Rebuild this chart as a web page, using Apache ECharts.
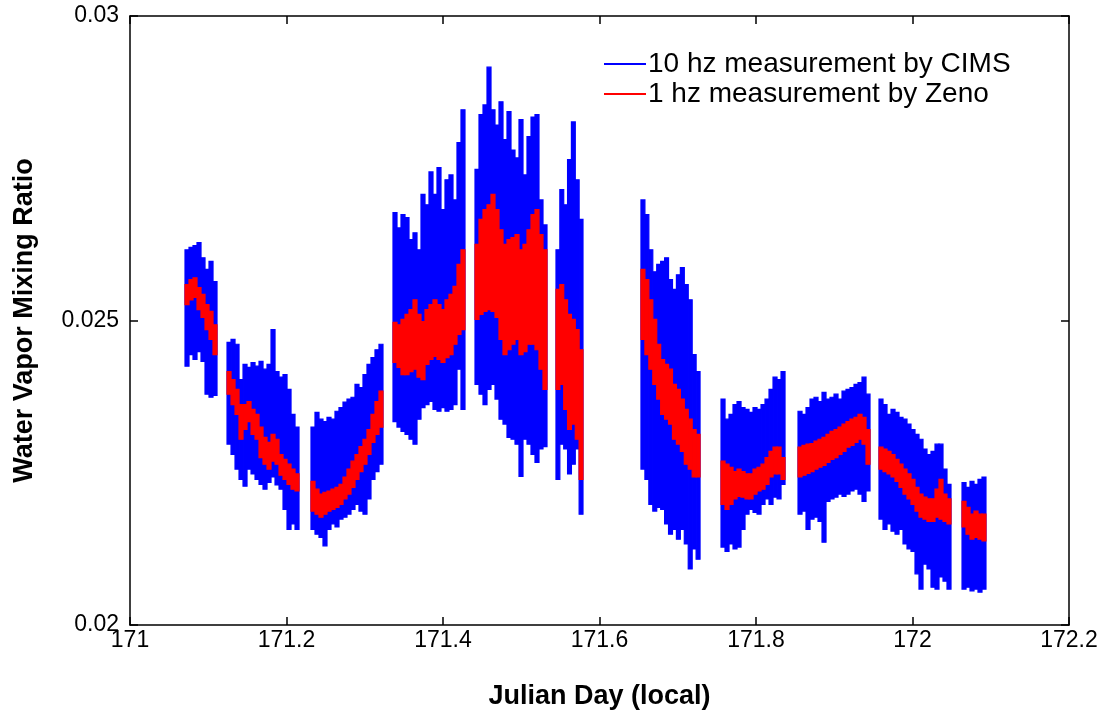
<!DOCTYPE html>
<html lang="en">
<head>
    <meta charset="UTF-8">
    <title>Water Vapor Mixing Ratio</title>
    <script src="https://cdn.jsdelivr.net/npm/echarts@6/dist/echarts.min.js"></script>
</head>
<body style="margin:0;background:#fff;">
<div id="main" style="width:1107px;height:715px;"></div>

<script type="text/javascript">
    // x ticks / y ticks
    var xTicks = [171, 171.2, 171.4, 171.6, 171.8, 172, 172.2];
    var yTicks = [0.02, 0.025, 0.03];

    // start / end (Julian day) of each recording block
    var segStart = [171.0703, 171.1240, 171.2313, 171.3361, 171.4409, 171.5444, 171.6530, 171.7553, 171.8537, 171.9572, 172.0633];
    var segEnd   = [171.1112, 171.2160, 171.3233, 171.4281, 171.5329, 171.5789, 171.7285, 171.8371, 171.9457, 172.0492, 172.0939];

    // 10 hz CIMS: upper / lower edge of the trace, read along each block
    var cimsHi = [
        [0.02616, 0.02620, 0.02623, 0.02628, 0.02603, 0.02584, 0.02597, 0.02564],
        [0.02464, 0.02469, 0.02461, 0.02403, 0.02428, 0.02423, 0.02431, 0.02425, 0.02433, 0.02420, 0.02428, 0.02485, 0.02416, 0.02407, 0.02411, 0.02387, 0.02346, 0.02325],
        [0.02325, 0.02349, 0.02338, 0.02334, 0.02341, 0.02338, 0.02351, 0.02357, 0.02366, 0.02371, 0.02374, 0.02395, 0.02390, 0.02411, 0.02428, 0.02439, 0.02452, 0.02461],
        [0.02677, 0.02652, 0.02674, 0.02669, 0.02633, 0.02644, 0.02616, 0.02707, 0.02690, 0.02744, 0.02707, 0.02751, 0.02682, 0.02731, 0.02739, 0.02698, 0.02792, 0.02846],
        [0.02748, 0.02838, 0.02854, 0.02916, 0.02846, 0.02821, 0.02859, 0.02797, 0.02843, 0.02780, 0.02767, 0.02830, 0.02739, 0.02802, 0.02834, 0.02838, 0.02698, 0.02657],
        [0.02616, 0.02715, 0.02690, 0.02764, 0.02826, 0.02731, 0.02666],
        [0.02698, 0.02674, 0.02616, 0.02580, 0.02592, 0.02597, 0.02603, 0.02567, 0.02551, 0.02575, 0.02587, 0.02559, 0.02534, 0.02444, 0.02416],
        [0.02371, 0.02338, 0.02346, 0.02362, 0.02367, 0.02357, 0.02354, 0.02349, 0.02357, 0.02354, 0.02362, 0.02371, 0.02387, 0.02407, 0.02403, 0.02416],
        [0.02351, 0.02346, 0.02357, 0.02371, 0.02374, 0.02367, 0.02382, 0.02371, 0.02374, 0.02379, 0.02371, 0.02384, 0.02387, 0.02390, 0.02395, 0.02398, 0.02407, 0.02379],
        [0.02371, 0.02362, 0.02346, 0.02354, 0.02349, 0.02341, 0.02338, 0.02330, 0.02321, 0.02313, 0.02305, 0.02289, 0.02280, 0.02285, 0.02297, 0.02297, 0.02256, 0.02231],
        [0.02234, 0.02226, 0.02236, 0.02231, 0.02239, 0.02243]
    ];
    var cimsLo = [
        [0.02425, 0.02444, 0.02436, 0.02449, 0.02433, 0.02379, 0.02374, 0.02377],
        [0.02297, 0.02280, 0.02256, 0.02239, 0.02228, 0.02256, 0.02248, 0.02239, 0.02231, 0.02223, 0.02234, 0.02243, 0.02230, 0.02223, 0.02190, 0.02157, 0.02166, 0.02157],
        [0.02157, 0.02149, 0.02144, 0.02130, 0.02157, 0.02166, 0.02161, 0.02174, 0.02177, 0.02182, 0.02190, 0.02198, 0.02187, 0.02182, 0.02207, 0.02239, 0.02252, 0.02264],
        [0.02334, 0.02325, 0.02318, 0.02313, 0.02305, 0.02297, 0.02338, 0.02357, 0.02362, 0.02367, 0.02354, 0.02351, 0.02357, 0.02351, 0.02354, 0.02362, 0.02420, 0.02354],
        [0.02395, 0.02379, 0.02362, 0.02387, 0.02395, 0.02371, 0.02338, 0.02330, 0.02308, 0.02305, 0.02297, 0.02244, 0.02305, 0.02297, 0.02280, 0.02267, 0.02289, 0.02293],
        [0.02239, 0.02297, 0.02289, 0.02248, 0.02264, 0.02289, 0.02182],
        [0.02256, 0.02239, 0.02198, 0.02187, 0.02193, 0.02190, 0.02166, 0.02149, 0.02157, 0.02141, 0.02157, 0.02133, 0.02092, 0.02125, 0.02108],
        [0.02128, 0.02121, 0.02133, 0.02125, 0.02128, 0.02157, 0.02182, 0.02190, 0.02185, 0.02182, 0.02198, 0.02207, 0.02198, 0.02210, 0.02207, 0.02231],
        [0.02182, 0.02187, 0.02157, 0.02174, 0.02177, 0.02170, 0.02136, 0.02203, 0.02207, 0.02210, 0.02215, 0.02211, 0.02215, 0.02220, 0.02223, 0.02215, 0.02203, 0.02220],
        [0.02174, 0.02157, 0.02166, 0.02154, 0.02149, 0.02157, 0.02133, 0.02125, 0.02121, 0.02084, 0.02059, 0.02100, 0.02092, 0.02062, 0.02059, 0.02079, 0.02072, 0.02059],
        [0.02059, 0.02062, 0.02056, 0.02059, 0.02054, 0.02059]
    ];

    // 1 hz Zeno: upper / lower edge of the trace
    var zenoHi = [
        [0.02559, 0.02567, 0.02570, 0.02554, 0.02543, 0.02526, 0.02515, 0.02493],
        [0.02416, 0.02403, 0.02387, 0.02362, 0.02362, 0.02367, 0.02354, 0.02346, 0.02325, 0.02308, 0.02300, 0.02313, 0.02305, 0.02280, 0.02272, 0.02264, 0.02256, 0.02248],
        [0.02236, 0.02223, 0.02215, 0.02218, 0.02220, 0.02223, 0.02226, 0.02231, 0.02243, 0.02256, 0.02269, 0.02280, 0.02293, 0.02305, 0.02321, 0.02346, 0.02367, 0.02384],
        [0.02497, 0.02493, 0.02502, 0.02510, 0.02518, 0.02534, 0.02510, 0.02498, 0.02518, 0.02526, 0.02534, 0.02526, 0.02518, 0.02534, 0.02543, 0.02556, 0.02592, 0.02616],
        [0.02625, 0.02666, 0.02682, 0.02690, 0.02707, 0.02682, 0.02649, 0.02625, 0.02633, 0.02636, 0.02641, 0.02616, 0.02625, 0.02649, 0.02674, 0.02682, 0.02641, 0.02616],
        [0.02551, 0.02559, 0.02534, 0.02510, 0.02502, 0.02485, 0.02452],
        [0.02584, 0.02567, 0.02534, 0.02502, 0.02461, 0.02436, 0.02428, 0.02420, 0.02395, 0.02387, 0.02371, 0.02354, 0.02338, 0.02321, 0.02313],
        [0.02269, 0.02264, 0.02259, 0.02252, 0.02256, 0.02252, 0.02248, 0.02248, 0.02256, 0.02259, 0.02264, 0.02275, 0.02285, 0.02292, 0.02292, 0.02275],
        [0.02292, 0.02295, 0.02297, 0.02298, 0.02302, 0.02305, 0.02308, 0.02313, 0.02318, 0.02321, 0.02325, 0.02330, 0.02334, 0.02338, 0.02341, 0.02346, 0.02341, 0.02321],
        [0.02292, 0.02289, 0.02285, 0.02280, 0.02272, 0.02264, 0.02256, 0.02248, 0.02239, 0.02226, 0.02215, 0.02210, 0.02207, 0.02207, 0.02223, 0.02239, 0.02215, 0.02207],
        [0.02203, 0.02193, 0.02182, 0.02187, 0.02182, 0.02182]
    ];
    var zenoLo = [
        [0.02526, 0.02534, 0.02538, 0.02518, 0.02505, 0.02485, 0.02469, 0.02444],
        [0.02379, 0.02362, 0.02346, 0.02305, 0.02321, 0.02334, 0.02313, 0.02305, 0.02275, 0.02264, 0.02256, 0.02269, 0.02264, 0.02246, 0.02239, 0.02231, 0.02223, 0.02220],
        [0.02187, 0.02182, 0.02177, 0.02182, 0.02187, 0.02190, 0.02193, 0.02198, 0.02207, 0.02215, 0.02226, 0.02239, 0.02252, 0.02264, 0.02280, 0.02300, 0.02313, 0.02325],
        [0.02431, 0.02423, 0.02411, 0.02411, 0.02416, 0.02420, 0.02407, 0.02403, 0.02428, 0.02436, 0.02441, 0.02436, 0.02431, 0.02439, 0.02444, 0.02461, 0.02477, 0.02485],
        [0.02502, 0.02510, 0.02515, 0.02518, 0.02515, 0.02505, 0.02469, 0.02444, 0.02452, 0.02461, 0.02469, 0.02444, 0.02449, 0.02461, 0.02461, 0.02452, 0.02420, 0.02387],
        [0.02387, 0.02395, 0.02354, 0.02321, 0.02330, 0.02305, 0.02239],
        [0.02469, 0.02444, 0.02420, 0.02395, 0.02371, 0.02346, 0.02338, 0.02330, 0.02305, 0.02297, 0.02285, 0.02264, 0.02256, 0.02243, 0.02243],
        [0.02198, 0.02190, 0.02198, 0.02207, 0.02211, 0.02210, 0.02207, 0.02207, 0.02215, 0.02220, 0.02223, 0.02231, 0.02243, 0.02248, 0.02248, 0.02239],
        [0.02243, 0.02246, 0.02249, 0.02252, 0.02256, 0.02259, 0.02262, 0.02267, 0.02272, 0.02275, 0.02280, 0.02285, 0.02292, 0.02295, 0.02300, 0.02305, 0.02297, 0.02264],
        [0.02256, 0.02252, 0.02248, 0.02243, 0.02236, 0.02226, 0.02215, 0.02207, 0.02198, 0.02187, 0.02177, 0.02174, 0.02170, 0.02170, 0.02177, 0.02174, 0.02170, 0.02166],
        [0.02161, 0.02149, 0.02141, 0.02144, 0.02141, 0.02138]
    ];

    // turn the block edges into rows [x0, x1, lo, hi] for the custom series
    function bandRows(hi, lo) {
        var rows = [];
        for (var s = 0; s < segStart.length; s++) {
            var n = hi[s].length;
            var step = (segEnd[s] - segStart[s]) / n;
            for (var i = 0; i < n; i++) {
                rows.push([segStart[s] + i * step, segStart[s] + (i + 1) * step, lo[s][i], hi[s][i]]);
            }
        }
        return rows;
    }

    function renderBand(params, api) {
        var a = api.coord([api.value(0), api.value(3)]);
        var b = api.coord([api.value(1), api.value(2)]);
        var c = api.visual('color');
        return {
            type: 'rect',
            shape: {x: a[0], y: a[1], width: b[0] - a[0], height: b[1] - a[1]},
            style: {fill: c, stroke: c, lineWidth: 1.2}
        };
    }

    var font = '"Liberation Sans", Arial, sans-serif';
    var myChart = echarts.init(document.getElementById('main'));

    var option = {
        animation: false,
        backgroundColor: '#fff',
        grid: {left: 130, right: 38, top: 16, bottom: 89},
        legend: {
            orient: 'vertical',
            left: 604,
            top: 50,
            padding: 0,
            itemGap: 2,
            itemWidth: 42,
            itemHeight: 2,
            icon: 'rect',
            textStyle: {fontFamily: font, fontSize: 28, color: '#000', padding: [0, 0, 0, -3]},
            data: ['10 hz measurement by CIMS', '1 hz measurement by Zeno']
        },
        xAxis: [{
            type: 'value',
            min: xTicks[0], max: xTicks[xTicks.length - 1], interval: 0.2,
            name: 'Julian Day (local)',
            nameLocation: 'middle',
            nameGap: 58,
            nameTextStyle: {fontFamily: font, fontSize: 27, fontWeight: 'bold', color: '#000'},
            axisLine: {lineStyle: {color: '#000', width: 1.5}},
            axisTick: {inside: true, length: 8, lineStyle: {color: '#000', width: 1.5}},
            axisLabel: {fontFamily: font, fontSize: 23, color: '#000', margin: 4},
            splitLine: {show: false}
        }, {
            type: 'value', position: 'top',
            min: xTicks[0], max: xTicks[xTicks.length - 1], interval: 0.2,
            axisLine: {lineStyle: {color: '#000', width: 1.5}},
            axisTick: {inside: true, length: 8, lineStyle: {color: '#000', width: 1.5}},
            axisLabel: {show: false},
            splitLine: {show: false}
        }],
        yAxis: [{
            type: 'value',
            min: yTicks[0], max: yTicks[yTicks.length - 1], interval: 0.005,
            name: 'Water Vapor Mixing Ratio',
            nameLocation: 'middle',
            nameGap: 92,
            nameTextStyle: {fontFamily: font, fontSize: 27, fontWeight: 'bold', color: '#000'},
            axisLine: {show: true, lineStyle: {color: '#000', width: 1.5}},
            axisTick: {show: true, inside: true, length: 8, lineStyle: {color: '#000', width: 1.5}},
            axisLabel: {fontFamily: font, fontSize: 23, color: '#000', margin: 11},
            splitLine: {show: false}
        }, {
            type: 'value', position: 'right',
            min: yTicks[0], max: yTicks[yTicks.length - 1], interval: 0.005,
            axisLine: {show: true, lineStyle: {color: '#000', width: 1.5}},
            axisTick: {show: true, inside: true, length: 8, lineStyle: {color: '#000', width: 1.5}},
            axisLabel: {show: false},
            splitLine: {show: false}
        }],
        series: [{
            name: '10 hz measurement by CIMS',
            type: 'custom',
            renderItem: renderBand,
            itemStyle: {color: '#0000ff'},
            encode: {x: [0, 1], y: [2, 3]},
            clip: true,
            data: bandRows(cimsHi, cimsLo)
        }, {
            name: '1 hz measurement by Zeno',
            type: 'custom',
            renderItem: renderBand,
            itemStyle: {color: '#ff0000'},
            encode: {x: [0, 1], y: [2, 3]},
            clip: true,
            data: bandRows(zenoHi, zenoLo)
        }]
    };
    myChart.setOption(option);
</script>
</body>
</html>
